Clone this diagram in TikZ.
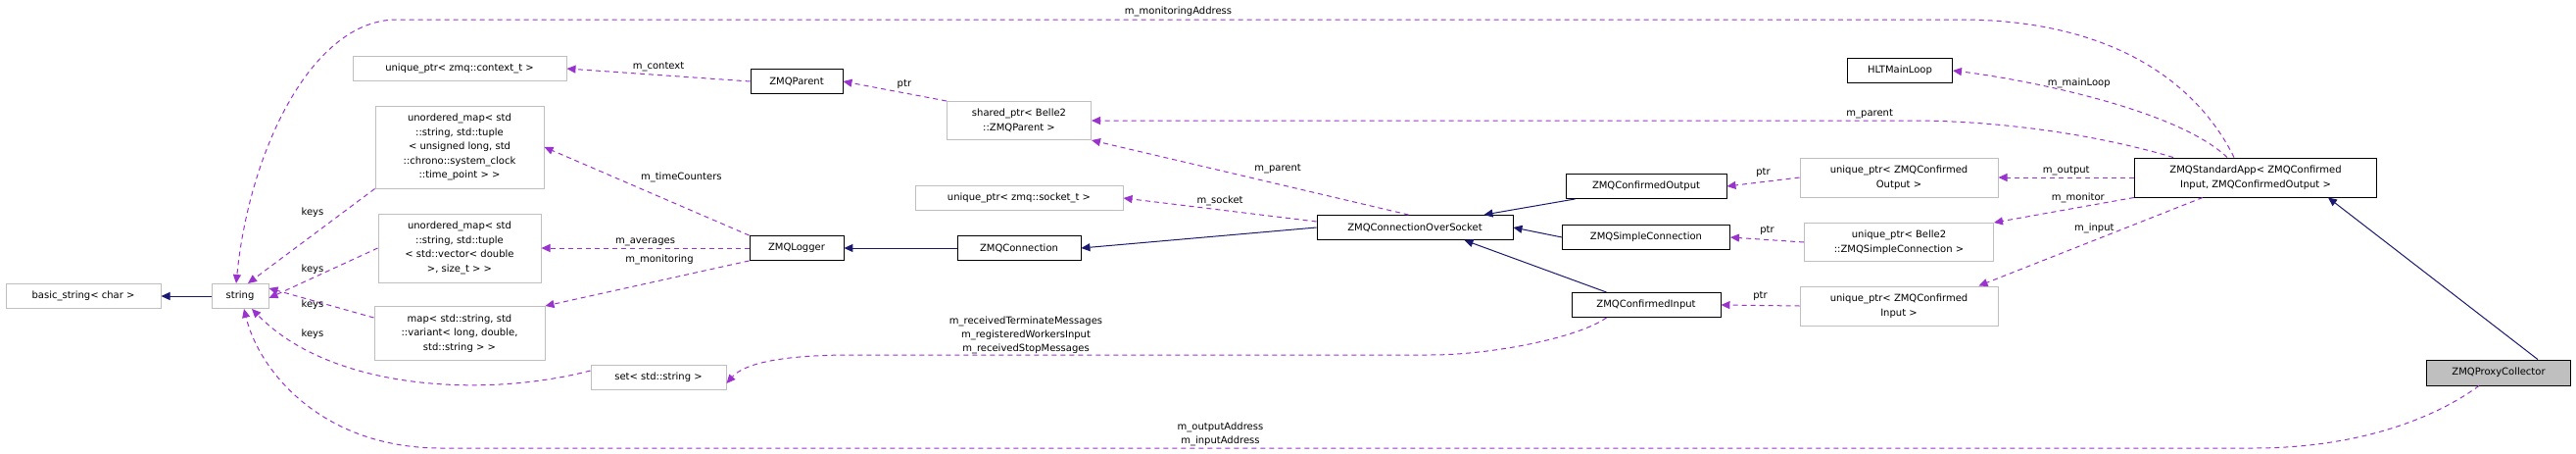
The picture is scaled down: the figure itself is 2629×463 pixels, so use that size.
\documentclass[tikz,border=0pt]{standalone}
\usepackage{fontspec}
\setmainfont{DejaVu Sans}
\usetikzlibrary{arrows.meta}
\definecolor{edgep}{HTML}{9A32CD}
\definecolor{edgen}{HTML}{191970}
\definecolor{boxg}{HTML}{BFBFBF}
\begin{document}
\begin{tikzpicture}[x=1pt,y=-1pt,
  every node/.style={font=\fontsize{10}{14.5}\selectfont},
  cls/.style={draw=black,line width=0.9pt,inner sep=0pt,align=center,fill=white},
  tpl/.style={draw=boxg,line width=1pt,inner sep=0pt,align=center,fill=white},
  inh/.style={edgen,line width=1pt,-{Triangle[length=9pt,width=8pt]}},
  use/.style={edgep,line width=1pt,dash pattern=on 5pt off 4pt,-{Triangle[length=9pt,width=8pt]}},
  lbl/.style={font=\fontsize{10}{14}\selectfont,align=center,inner sep=0pt,text=black}]
\useasboundingbox (0,0) rectangle (2629,463);
% nodes
\node[tpl,minimum width=158,minimum height=25] (bs) at (85,302) {basic\_string< char >};
\node[tpl,minimum width=58,minimum height=25] (str) at (245,302) {string};
\node[tpl,minimum width=218,minimum height=25] (uctx) at (469,70) {unique\_ptr< zmq::context\_t >};
\node[tpl,minimum width=172,minimum height=84] (um1) at (469,150) {unordered\_map< std\\::string, std::tuple\\< unsigned long, std\\::chrono::system\_clock\\::time\_point > >};
\node[tpl,minimum width=166,minimum height=70] (um2) at (469,253) {unordered\_map< std\\::string, std::tuple\\< std::vector< double\\>, size\_t > >};
\node[tpl,minimum width=174,minimum height=55] (mp) at (469,340) {map< std::string, std\\::variant< long, double,\\std::string > >};
\node[tpl,minimum width=138,minimum height=25] (set) at (672,385) {set< std::string >};
\node[cls,minimum width=94,minimum height=25] (par) at (813,83) {ZMQParent};
\node[cls,minimum width=96,minimum height=25] (log) at (813,253) {ZMQLogger};
\node[tpl,minimum width=147,minimum height=39] (shp) at (1040,123) {shared\_ptr< Belle2\\::ZMQParent >};
\node[tpl,minimum width=212,minimum height=25] (usock) at (1040,202) {unique\_ptr< zmq::socket\_t >};
\node[cls,minimum width=126,minimum height=25] (con) at (1040,253) {ZMQConnection};
\node[cls,minimum width=200,minimum height=25] (cos) at (1444,232) {ZMQConnectionOverSocket};
\node[cls,minimum width=164,minimum height=25] (cout) at (1680,190) {ZMQConfirmedOutput};
\node[cls,minimum width=171,minimum height=25] (scon) at (1680,242) {ZMQSimpleConnection};
\node[cls,minimum width=152,minimum height=25] (cin) at (1680,311) {ZMQConfirmedInput};
\node[cls,minimum width=107,minimum height=25] (hlt) at (1939,72) {HLTMainLoop};
\node[tpl,minimum width=202,minimum height=40] (uout) at (1938,181) {unique\_ptr< ZMQConfirmed\\Output >};
\node[tpl,minimum width=193,minimum height=39] (usim) at (1938,247) {unique\_ptr< Belle2\\::ZMQSimpleConnection >};
\node[tpl,minimum width=202,minimum height=40] (uin) at (1938,312) {unique\_ptr< ZMQConfirmed\\Input >};
\node[cls,minimum width=247,minimum height=40] (app) at (2302,181) {ZMQStandardApp< ZMQConfirmed\\Input, ZMQConfirmedOutput >};
\node[cls,fill=boxg,minimum width=147,minimum height=26] (pc) at (2550,380) {ZMQProxyCollector};
% inheritance
\draw[inh] (str) -- (bs);
\draw[inh] (con) -- (log);
\draw[inh] (cos.west) -- (con.east);
\draw[inh] ([xshift=10pt]cout.south west) -- ([xshift=-30pt]cos.north east);
\draw[inh] (scon.west) -- (cos.east);
\draw[inh] ([xshift=36pt]cin.north west) -- ([xshift=-50pt]cos.south east);
\draw[inh] ([xshift=-34pt]pc.north east) -- ([xshift=-50pt]app.south east);
% usage
\draw[use] (par.west) -- node[lbl,above=3pt] {m\_context} (uctx.east);
\draw[use] (shp.north west) -- node[lbl,above right=2pt] {ptr} (par.east);
\draw[use] (log.north west) -- node[lbl,pos=0.55,above right=4pt] {m\_timeCounters} (um1.east);
\draw[use] (log.west) -- node[lbl,above=2pt] {m\_averages} (um2.east);
\draw[use] (log.south west) -- (mp.north east);
\node[lbl] (lmon) at (673,265) {m\_monitoring};
\draw[use] (um1.south west) -- ([xshift=8pt]str.north);
\draw[use] (um2.west) -- ([yshift=-2pt]str.east);
\draw[use] ([yshift=16pt]mp.west) -- ([yshift=8pt]str.east);
\draw[use] ([yshift=7pt]set.west) .. controls (500,405) and (340,400) .. ([xshift=12pt]str.south);
\node[lbl] (k1) at (319,217) {keys};
\node[lbl] (k2) at (319,275) {keys};
\node[lbl] (k3) at (319,311) {keys};
\node[lbl] (k4) at (319,341) {keys};
\draw[use] ([xshift=94pt]cos.north west) -- node[lbl,above right=4pt] {m\_parent} (shp.south east);
\draw[use] ([yshift=6pt]cos.west) -- node[lbl,above=4pt] {m\_socket} (usock.east);
\draw[use] ([xshift=36pt]cin.south west) .. controls (1610,345) and (1520,362) .. (1460,362) -- (870,362)
  node[lbl,pos=0.7,above=1pt] {m\_receivedTerminateMessages\\m\_registeredWorkersInput\\m\_receivedStopMessages}
  .. controls (800,362) and (760,370) .. ([yshift=-6pt]set.east);
\draw[use] ([xshift=102pt]app.north west) .. controls (2240,80) and (2150,20) .. (2000,20) -- (405,20)
  node[lbl,midway,above=3pt] {m\_monitoringAddress}
  .. controls (320,20) and (255,150) .. ([xshift=-4pt]str.north);
\draw[use] ([xshift=95pt]app.north west) .. controls (2220,110) and (2060,80) .. (hlt.east)
  node[lbl,pos=0.55,above=6pt] {m\_mainLoop};
\draw[use] ([xshift=40pt]app.north west) .. controls (2150,140) and (2050,123) .. (1950,123) -- (shp.east)
  node[lbl,pos=0.05,above=2pt] {m\_parent};
\draw[use] (app.west) -- node[lbl,above=2pt] {m\_output} (uout.east);
\draw[use] (app.south west) -- node[lbl,pos=0.4,above=4pt] {m\_monitor} (usim.north east);
\draw[use] ([xshift=70pt]app.south west) -- node[lbl,pos=0.35,left=10pt] {m\_input} ([xshift=-20pt]uin.north east);
\draw[use] (uout.west) -- node[lbl,above=4pt] {ptr} (cout.east);
\draw[use] (usim.west) -- node[lbl,above=4pt] {ptr} (scon.east);
\draw[use] (uin.west) -- node[lbl,above=4pt] {ptr} (cin.east);
\draw[use] ([xshift=-20pt]pc.south) .. controls (2480,430) and (2400,457) .. (2300,457) -- (450,457)
  node[lbl,pos=0.57,above=2pt] {m\_outputAddress\\m\_inputAddress}
  .. controls (330,457) and (265,380) .. ([xshift=4pt]str.south);
\end{tikzpicture}
\end{document}
